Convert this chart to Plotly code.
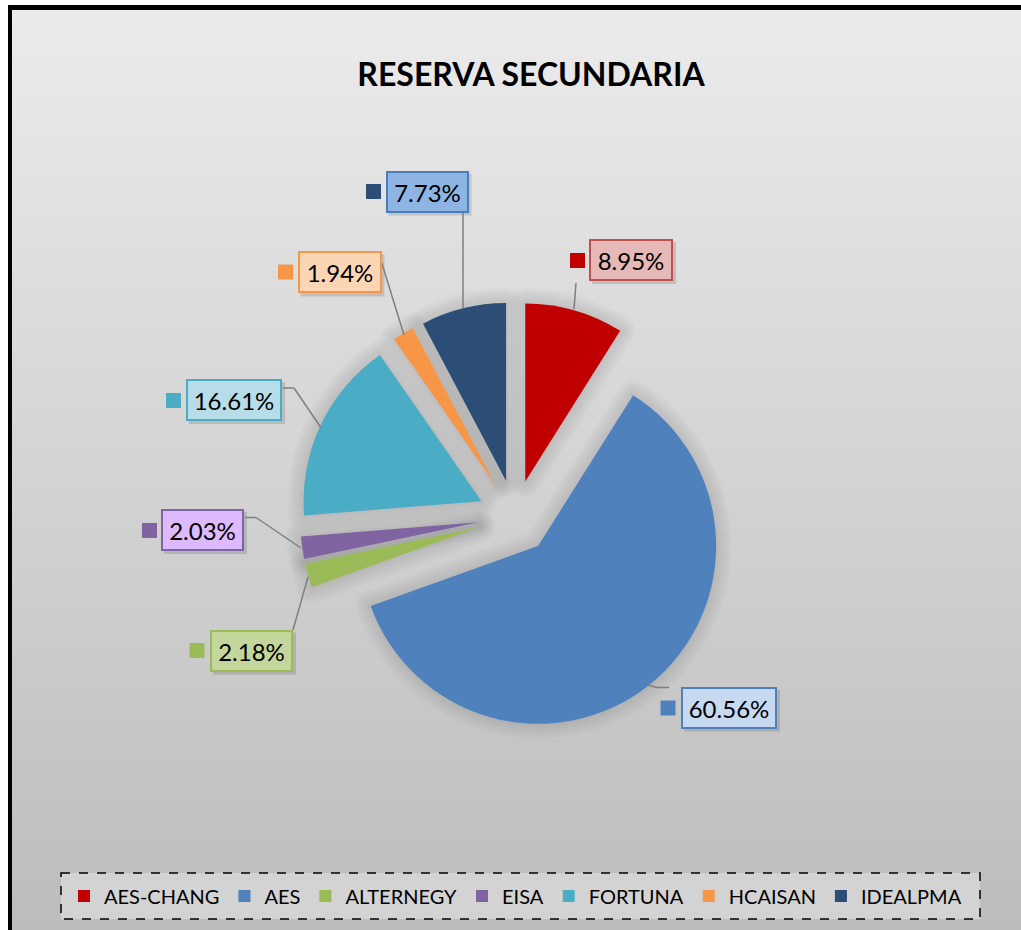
import plotly.graph_objects as go

# ---------------- data ----------------
categories = ["AES-CHANG", "AES", "ALTERNEGY", "EISA", "FORTUNA", "HCAISAN", "IDEALPMA"]
shares = [8.95, 60.56, 2.18, 2.03, 16.61, 1.94, 7.73]
title_text = "RESERVA SECUNDARIA"

# ---------------- styles ----------------
slice_colors = ["#C00000", "#4F81BD", "#9BBB59", "#8064A2", "#4BACC6", "#F79646", "#2C4D75"]
label_fills = ["#E6B9B8", "#C6D9F1", "#C3D69B", "#DDB9FF", "#B7DEE8", "#FCD5B5", "#8EB4E3"]
label_borders = ["#C0504D", "#4F81BD", "#9BBB59", "#8064A2", "#4BACC6", "#F79646", "#4A7EBB"]

W, H = 1021, 930


def X(px):
    return px / W


def Y(py):
    return 1 - py / H


# label layout (pixel positions: box centre x, centre y, box width)
label_boxes = [(631, 260, 84), (729, 707.5, 96), (251.5, 650.5, 83), (202.5, 530, 83),
               (234, 400, 96), (339.5, 272.5, 84), (427, 191.5, 83)]
marker_centres = [(577.5, 260.5), (668, 708), (197, 650.5), (149.5, 530.5),
                  (173.5, 400.5), (285.5, 272), (373.5, 191.5)]
leader_paths = [
    [(576, 283), (574, 309)],
    [(648, 685), (657, 687.5), (669, 687.5)],
    [(293, 630), (308, 577)],
    [(245, 517.5), (256, 517.5), (301, 548)],
    [(283, 388), (294, 388), (320.5, 427)],
    [(381.5, 262), (404, 335)],
    [(463, 212), (463, 308)],
]

shapes = []
# gradient background
n_bands = 92
top_c, bot_c = 235, 188
for i in range(n_bands):
    y0 = 10 + i * (H - 10) / n_bands
    y1 = 10 + (i + 1) * (H - 10) / n_bands + 0.6
    c = round(top_c + (bot_c - top_c) * (i + 0.5) / n_bands)
    shapes.append(dict(type="rect", xref="paper", yref="paper", layer="below",
                       x0=X(12), x1=X(W), y0=Y(y0), y1=Y(y1),
                       fillcolor=f"rgb({c},{c},{c})", line=dict(width=0)))
# black frame (left and top)
shapes.append(dict(type="rect", xref="paper", yref="paper", layer="below",
                   x0=X(8), x1=X(12), y0=Y(5), y1=Y(H), fillcolor="black", line=dict(width=0)))
shapes.append(dict(type="rect", xref="paper", yref="paper", layer="below",
                   x0=X(8), x1=X(W), y0=Y(5), y1=Y(10), fillcolor="black", line=dict(width=0)))
# legend box (dashed)
shapes.append(dict(type="rect", xref="paper", yref="paper", layer="below",
                   x0=X(61), x1=X(980), y0=Y(873), y1=Y(919),
                   fillcolor="#D3D3D3", line=dict(color="black", width=1.5, dash="dash")))

annotations = []
for i, cat in enumerate(categories):
    cx, cy, bw = label_boxes[i]
    bh = 42
    # drop shadow of label box
    shapes.append(dict(type="rect", xref="paper", yref="paper", layer="above",
                       x0=X(cx - bw / 2 + 3), x1=X(cx + bw / 2 + 3),
                       y0=Y(cy - bh / 2 + 3), y1=Y(cy + bh / 2 + 3),
                       fillcolor="rgba(0,0,0,0.13)", line=dict(width=0)))
    # colour key square
    mx, my = marker_centres[i]
    shapes.append(dict(type="rect", xref="paper", yref="paper", layer="above",
                       x0=X(mx - 7.5), x1=X(mx + 7.5), y0=Y(my - 7.5), y1=Y(my + 7.5),
                       fillcolor=slice_colors[i], line=dict(width=0)))
    # leader line
    pts = leader_paths[i]
    for (xa, ya), (xb, yb) in zip(pts[:-1], pts[1:]):
        shapes.append(dict(type="line", xref="paper", yref="paper", layer="above",
                           x0=X(xa), y0=Y(ya), x1=X(xb), y1=Y(yb),
                           line=dict(color="#7F7F7F", width=1.5)))
    annotations.append(dict(
        text=f"{shares[i]:.2f}%", x=X(cx), y=Y(cy), xref="paper", yref="paper",
        xanchor="center", yanchor="middle", showarrow=False,
        font=dict(family="Lato", size=24, color="black"),
        bgcolor=label_fills[i], bordercolor=label_borders[i], borderwidth=2,
        borderpad=1, width=bw - 6, height=bh - 6))

# pie geometry: centre (515, 517) px, slice radius 178 px, pull 37 px
pull = 0.208
pie_r_px = 178
half = pie_r_px * (1 + pull)
pcx, pcy = 515, 517
pie_domain = dict(x=[X(pcx - half), X(pcx + half)], y=[Y(pcy + half), Y(pcy - half)])

fig = go.Figure()
# soft shadow halo behind the slices
for lw in (30, 24, 18, 12, 6):
    fig.add_trace(go.Pie(
        labels=categories, values=shares, sort=False, direction="clockwise", rotation=0,
        marker=dict(colors=["rgba(0,0,0,0)"] * len(shares),
                    line=dict(width=lw, color="rgba(0,0,0,0.018)")),
        pull=[pull] * len(shares), textinfo="none", hoverinfo="skip",
        showlegend=False, domain=pie_domain))

fig.add_trace(go.Pie(
    labels=categories, values=shares, sort=False, direction="clockwise", rotation=0,
    marker=dict(colors=slice_colors, line=dict(width=0)),
    pull=[pull] * len(shares), textinfo="none", hoverinfo="label+percent",
    domain=pie_domain,
))

fig.update_layout(
    width=W, height=H,
    margin=dict(l=0, r=0, t=0, b=0, pad=0),
    paper_bgcolor="white", plot_bgcolor="white",
    title=dict(text=title_text, x=X(531), y=Y(75), xanchor="center", yanchor="middle",
               xref="paper", yref="paper",
               font=dict(family="Lato", size=32, color="black", weight="bold")),
    shapes=shapes, annotations=annotations,
    showlegend=True,
    legend=dict(orientation="h", x=X(64), xanchor="left", y=Y(896), yanchor="middle",
                font=dict(family="Lato", size=20, color="black"),
                bgcolor="rgba(0,0,0,0)", borderwidth=0, traceorder="normal"),
)

fig.write_html("out.html", config={"displayModeBar": False},
               post_script="document.body.style.margin='0';")
